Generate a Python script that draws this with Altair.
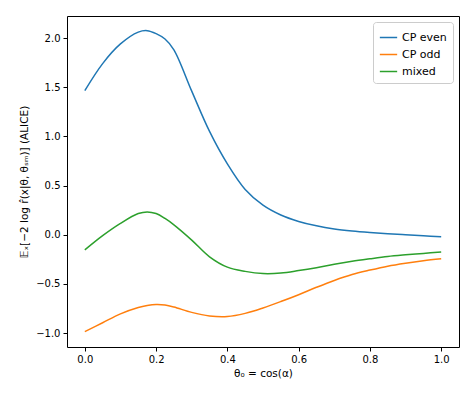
import altair as alt
import pandas as pd

theta = [0.0, 0.05, 0.10, 0.15, 0.175, 0.20, 0.225, 0.25, 0.30, 0.35, 0.40, 0.45, 0.50,
         0.55, 0.60, 0.65, 0.70, 0.75, 0.80, 0.85, 0.90, 0.95, 1.00]
cp_even = [1.465, 1.74, 1.94, 2.06, 2.075, 2.045, 1.99, 1.88, 1.46, 1.05, 0.72, 0.46, 0.30,
           0.20, 0.135, 0.09, 0.058, 0.037, 0.022, 0.01, 0.0, -0.011, -0.02]
cp_odd = [-0.985, -0.895, -0.805, -0.74, -0.72, -0.71, -0.715, -0.735, -0.79, -0.826, -0.832, -0.80, -0.745,
          -0.68, -0.61, -0.535, -0.465, -0.405, -0.36, -0.32, -0.29, -0.265, -0.245]
mixed = [-0.155, -0.01, 0.115, 0.215, 0.232, 0.215, 0.165, 0.10, -0.055, -0.225, -0.33, -0.373, -0.395,
         -0.39, -0.365, -0.335, -0.30, -0.27, -0.245, -0.222, -0.205, -0.19, -0.175]

series = ["CP even", "CP odd", "mixed"]
colors = ["#1f77b4", "#ff7f0e", "#2ca02c"]

rows = []
for name, vals in zip(series, [cp_even, cp_odd, mixed]):
    for t, v in zip(theta, vals):
        rows.append({"theta": t, "value": v, "series": name})
df = pd.DataFrame(rows)

font = "DejaVu Sans"

chart = alt.Chart(df).mark_line(strokeWidth=1.5, interpolate="catmull-rom").encode(
    x=alt.X("theta:Q",
            scale=alt.Scale(domain=[-0.05, 1.05], nice=False, zero=False),
            axis=alt.Axis(values=[0, 0.2, 0.4, 0.6, 0.8, 1.0], format=".1f",
                          title="θ₀ = cos(α)")),
    y=alt.Y("value:Q",
            scale=alt.Scale(domain=[-1.142, 2.224], nice=False, zero=False),
            axis=alt.Axis(values=[-1.0, -0.5, 0.0, 0.5, 1.0, 1.5, 2.0], format=".1f",
                          title="𝔼ₓ[−2 log r̂(x|θ, θₛₘ)] (ALICE)")),
    color=alt.Color("series:N",
                    scale=alt.Scale(domain=series, range=colors),
                    legend=alt.Legend(title=None, orient="top-right", symbolType="stroke",
                                      symbolStrokeWidth=1.5, symbolSize=300,
                                      fillColor="white", strokeColor="#cccccc",
                                      cornerRadius=3, padding=6, offset=6,
                                      labelFontSize=11, labelFont=font,
                                      rowPadding=2)),
).properties(
    width=392, height=331,
    padding={"left": 59, "top": 8, "right": 6, "bottom": 40},
    autosize=alt.AutoSizeParams(type="none"),
).configure_view(
    stroke="black", strokeWidth=1
).configure_axis(
    grid=False, domain=False, tickColor="black", tickSize=4, tickWidth=1,
    labelColor="black", labelFont=font, labelFontSize=10, labelPadding=3,
    titleFont=font, titleFontSize=10.5, titleFontWeight="normal", titleColor="black",
).configure_axisX(titlePadding=4).configure_axisY(titlePadding=6)

chart.save("out.html", embed_options={"renderer": "svg", "actions": False})
